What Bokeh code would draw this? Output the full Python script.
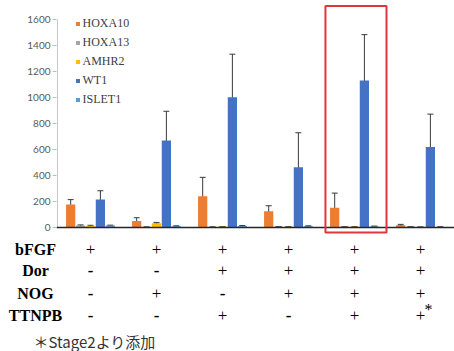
import numpy as np
from bokeh.plotting import figure
from bokeh.models import (Range1d, FixedTicker, Span, Whisker, TeeHead,
                          ColumnDataSource, Legend, LegendItem, BoxAnnotation)
from bokeh.core.properties import value
from bokeh.embed import file_html
from bokeh.resources import INLINE

# ---------------- data ----------------
groups = ["1", "2", "3", "4", "5", "6"]
series = ["HOXA10", "HOXA13", "AMHR2", "WT1", "ISLET1"]
colors = ["#ED7D31", "#A5A5A5", "#FFC000", "#4472C4", "#5B9BD5"]

hoxa10 = [177, 50, 240, 125, 152, 18]
hoxa10_err = [37, 25, 145, 42, 112, 6]
hoxa13 = [15, 3, 3, 5, 5, 5]
hoxa13_err = [5, 2, 2, 2, 2, 2]
amhr2 = [12, 33, 5, 5, 5, 3]
amhr2_err = [5, 6, 2, 2, 2, 1]
wt1 = [215, 667, 1000, 462, 1128, 618]
wt1_err = [67, 225, 330, 265, 352, 252]
islet1 = [15, 10, 12, 10, 8, 4]
islet1_err = [3, 3, 3, 3, 3, 1]

y_ticks = [0, 200, 400, 600, 800, 1000, 1200, 1400, 1600]

row_names = ["bFGF", "Dor", "NOG", "TTNPB"]
row_bfgf = ["+", "+", "+", "+", "+", "+"]
row_dor = ["-", "-", "+", "+", "+", "+"]
row_nog = ["-", "+", "-", "+", "+", "+"]
row_ttnpb = ["-", "-", "+", "-", "+", "+*"]
footnote = "＊Stage2より添加"
highlight_group = 4  # index of boxed group

values = [hoxa10, hoxa13, amhr2, wt1, islet1]
errors = [hoxa10_err, hoxa13_err, amhr2_err, wt1_err, islet1_err]
rows = [row_bfgf, row_dor, row_nog, row_ttnpb]

# ---------------- chart ----------------
W = 454
H1 = 234
H2 = 351 - H1
s = 208.5 / 1600.0          # px per unit
zero_px = 227.0
frame_left = 56
px_per_cat = 66.0
x_start = -0.015
x_end = x_start + (W - frame_left) / px_per_cat

p = figure(width=W, height=H1, output_backend="svg", toolbar_location=None,
           x_range=Range1d(x_start, x_end),
           y_range=Range1d(-(H1 - zero_px) / s, zero_px / s),
           x_axis_location=None, y_axis_location="left",
           min_border_left=frame_left, min_border_right=0,
           min_border_top=0, min_border_bottom=0)
p.outline_line_color = None
p.xgrid.visible = False
p.ygrid.visible = False

yax = p.yaxis[0]
yax.ticker = FixedTicker(ticks=y_ticks)
yax.axis_line_color = None
yax.major_tick_out = 4
yax.major_tick_in = 0
yax.major_tick_line_color = "#BFBFBF"
yax.minor_tick_line_color = None
yax.major_label_text_font = "Lato"
yax.major_label_text_font_size = "10px"
yax.major_label_text_color = "#595959"
yax.major_label_standoff = 2

# y axis line from 0 to 1600 only
p.segment(x0=[0], y0=[y_ticks[0]], x1=[0], y1=[y_ticks[-1]], line_color="#C8C8C8", line_width=1)

centers = np.arange(len(groups)) + 0.5
step = 0.15
bw = 0.14
renderers = []
for k, (name, vals, errs, col) in enumerate(zip(series, values, errors, colors)):
    xs = centers + (k - 2) * step
    v = np.array(vals, dtype=float)
    e = np.array(errs, dtype=float)
    src = ColumnDataSource(dict(x=xs, top=v, upper=v + e, lower=v - e))
    r = p.vbar(x="x", top="top", width=bw, source=src, fill_color=col, line_color=None)
    renderers.append(r)
    w = Whisker(base="x", upper="upper", lower="lower", source=src, dimension="height",
                line_color="#3A3A3A", line_width=1,
                upper_head=TeeHead(size=6, line_color="#3A3A3A", line_width=1),
                lower_head=TeeHead(size=6, line_color="#3A3A3A", line_width=1))
    p.add_layout(w)

p.add_layout(Span(location=0, dimension="width", line_color="#262626", line_width=1.3))

# highlight box
p.add_layout(BoxAnnotation(left=highlight_group + 0.06, right=highlight_group + 0.985,
                           bottom=-38, top=1700, fill_alpha=0, line_alpha=1,
                           line_color="#E0353C", line_width=2))

# legend
leg_top = 23 - 8.5
leg_h = 5 * 17 + 4 * 2
legend = Legend(items=[LegendItem(label=n, renderers=[r]) for n, r in zip(series, renderers)],
                location=(18.5, H1 - leg_top - leg_h), padding=0, margin=0, spacing=2,
                label_height=17, glyph_width=5, glyph_height=5, label_standoff=3,
                label_text_font="Liberation Serif", label_text_font_size="12px",
                label_text_color="#404040", border_line_color=None,
                background_fill_alpha=0)
p.add_layout(legend)

# ---------------- condition table ----------------
t = figure(width=W, height=H2, output_backend="svg", toolbar_location=None,
           x_range=Range1d(x_start - frame_left / px_per_cat, x_end),
           y_range=Range1d(H2, 0),
           x_axis_location=None, y_axis_location=None,
           min_border_left=0, min_border_right=0, min_border_top=0, min_border_bottom=0)
t.outline_line_color = None
t.xgrid.visible = False
t.ygrid.visible = False

row_y = [15, 36, 58.5, 81]
label_x = (35 - frame_left) / px_per_cat + x_start
t.text(x=[label_x] * len(row_names), y=row_y, text=row_names,
       text_align="center", text_baseline="middle", text_font=value("Liberation Serif"),
       text_font_style="bold", text_font_size="16px", text_color="#000000")

for row, yy in zip(rows, row_y):
    signs = [c.replace("*", "") for c in row]
    plus_x = [c for c, sg in zip(centers, signs) if sg == "+"]
    minus_x = [c for c, sg in zip(centers, signs) if sg == "-"]
    star_x = [c for c, sg in zip(centers, row) if "*" in sg]
    t.text(x=plus_x, y=[yy] * len(plus_x), text=["+"] * len(plus_x),
           text_align="center", text_baseline="middle", text_font=value("Liberation Serif"),
           text_font_size="17px", text_color="#000000")
    t.text(x=minus_x, y=[yy] * len(minus_x), text=["-"] * len(minus_x),
           text_align="center", text_baseline="middle", text_font=value("Liberation Serif"),
           text_font_style="bold", text_font_size="17px", text_color="#000000")
    if star_x:
        t.text(x=star_x, y=[yy] * len(star_x), text=["*"] * len(star_x), x_offset=8, y_offset=-6,
               text_align="center", text_baseline="middle", text_font=value("Liberation Serif"),
               text_font_size="16px", text_color="#000000")

t.text(x=[(33 - frame_left) / px_per_cat + x_start], y=[107], text=[footnote],
       text_align="left", text_baseline="middle", text_font=value("Noto Sans CJK JP"),
       text_font_size="15px", text_color="#333333")

open("out.html", "w").write(file_html([p, t], INLINE))
